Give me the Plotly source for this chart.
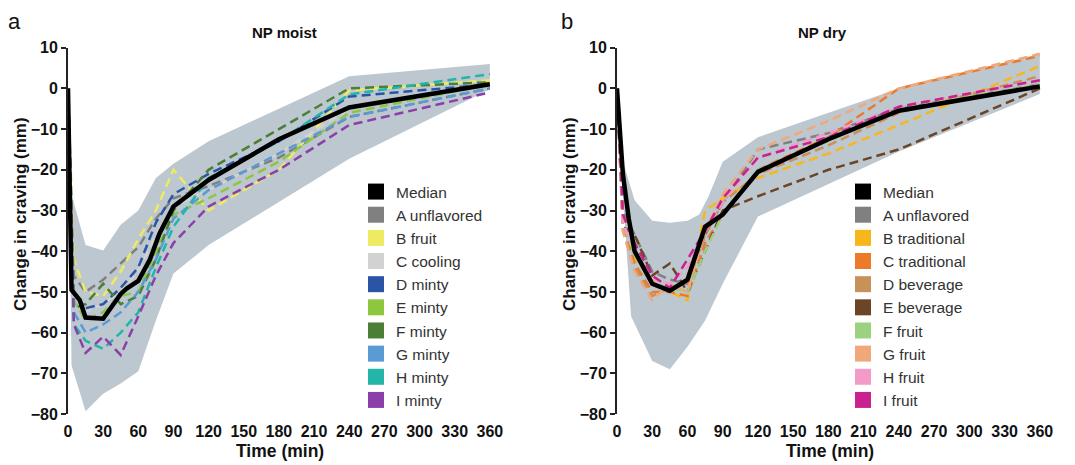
import plotly.graph_objects as go

# ---------------- data ----------------
T_DASH = [0, 5, 15, 30, 45, 60, 75, 90, 120, 180, 240, 360]

# Panel a: NP moist
MOIST_NAMES = ["A unflavored", "B fruit", "C cooling", "D minty", "E minty",
               "F minty", "G minty", "H minty", "I minty"]
MOIST_COLORS = ["#808080", "#eeea62", "#d2d2d2", "#2a55a5", "#8dc63f",
                "#4b7f35", "#5b9bd5", "#22b5a8", "#8b3fa8"]
MOIST_A = [0, -46, -50, -47, -43, -39, -32, -27, -24, -17, -7, 0]
MOIST_B = [0, -42, -50, -51, -45, -37, -30, -20, -30, -20, -0.5, 2]
MOIST_C = [0, -50, -55, -53, -50, -45, -36, -29, -25, -16, -5, 1]
MOIST_D = [0, -50, -54, -53, -49, -44, -33, -26, -21, -13, -2, 1]
MOIST_E = [0, -52, -57, -55, -51, -50, -40, -31, -27, -18, -6, 1]
MOIST_F = [0, -54, -53, -48, -53, -51, -42, -30, -20, -10, 0, 1.5]
MOIST_G = [0, -55, -60, -58, -55, -50, -42, -32, -25, -16, -7, 0]
MOIST_H = [0, -58, -62, -64, -60, -55, -44, -34, -22, -13, -1.5, 3.5]
MOIST_I = [0, -58, -65, -61, -65.5, -56, -46, -38, -29, -20, -9, -1]

MOIST_MED_T = [0, 3, 10, 15, 30, 45, 50, 60, 70, 78, 90, 120, 180, 240, 360]
MOIST_MED = [0, -49.5, -52, -56.3, -56.6, -50.5, -49.2, -47.3, -42, -35.7, -29, -22.5, -12.5, -4.7, 1]

MOIST_UP_T = [0, 3, 15, 30, 45, 60, 75, 90, 120, 240, 360]
MOIST_UP = [0, -26, -38.5, -39.8, -33.5, -30, -22, -18.5, -13, 3, 6]
MOIST_LO_T = [0, 3, 15, 30, 45, 60, 75, 90, 120, 240, 360]
MOIST_LO = [0, -68, -79.3, -75, -72.5, -69.5, -57, -45.5, -38.5, -17.3, -0.2]

# Panel b: NP dry
DRY_NAMES = ["A unflavored", "B traditional", "C traditional", "D beverage",
             "E beverage", "F fruit", "G fruit", "H fruit", "I fruit"]
DRY_COLORS = ["#808080", "#f7b71c", "#ec7a2b", "#c8915a", "#6b4525",
              "#9cd17f", "#f0a87a", "#f29ac8", "#c9218e"]
DRY_A = [0, -30, -36, -45, -47, -48, -36, -28, -15, -11, -5, 1]
DRY_B = [0, -32, -42, -47, -50, -52, -30, -27, -22, -16, -9, 5.5]
DRY_C = [0, -33, -43, -50, -50, -51, -38, -31, -20, -12, 0, 8]
DRY_D = [0, -35, -44, -51, -49, -48, -36, -28, -21, -14, -6, 3]
DRY_E = [0, -34, -36, -46, -43, -50, -40, -30, -26.5, -20, -15, 0]
DRY_F = [0, -33, -41, -48, -49, -50, -40, -31, -20, -13, -5, 1]
DRY_G = [0, -35, -45, -52, -48, -50, -35, -26, -15, -8, 0, 8.5]
DRY_H = [0, -33, -40, -47, -48, -44, -35, -28, -17, -11, -4.5, 2]
DRY_I = [0, -31, -38, -46, -49, -42, -35, -27, -17, -12, -4.5, 2]

DRY_MED_T = [0, 5, 10, 15, 30, 45, 60, 75, 90, 120, 180, 240, 360]
DRY_MED = [0, -21, -32, -40, -48, -49.7, -47, -34, -31, -20.5, -12.5, -5.5, 0.5]

DRY_UP_T = [0, 4, 15, 30, 45, 60, 70, 78, 90, 120, 240, 360]
DRY_UP = [0, -17, -27.5, -32.5, -33, -32.5, -31, -26.5, -18, -12, 0, 8.5]
DRY_LO_T = [0, 4, 12, 30, 45, 60, 75, 90, 120, 240, 360]
DRY_LO = [0, -22, -56, -67, -69, -63.5, -57, -48, -31.5, -15.5, -1.4]

X_TICKS = [0, 30, 60, 90, 120, 150, 180, 210, 240, 270, 300, 330, 360]
Y_TICKS = [10, 0, -10, -20, -30, -40, -50, -60, -70, -80]

# ---------------- figure ----------------
# the page body has an 8px default margin, so the figure is sized to fit the window
OFF = 8
W, H = 1075 - OFF, 465 - OFF
BAND = "#bdc7cf"
FONT = "Liberation Sans, Arial, sans-serif"

fig = go.Figure()

def px_x(p):
    return (p - OFF) / W

def px_y(p):
    return 1 - (p - OFF) / H

panels = [
    dict(xa="x", ya="y", xa_name="xaxis", ya_name="yaxis", legend="legend",
         up_t=MOIST_UP_T, up=MOIST_UP, lo_t=MOIST_LO_T, lo=MOIST_LO,
         series=[MOIST_A, MOIST_B, MOIST_C, MOIST_D, MOIST_E, MOIST_F, MOIST_G, MOIST_H, MOIST_I],
         names=MOIST_NAMES, colors=MOIST_COLORS, med_t=MOIST_MED_T, med=MOIST_MED,
         dom=[68, 491]),
    dict(xa="x2", ya="y2", xa_name="xaxis2", ya_name="yaxis2", legend="legend2",
         up_t=DRY_UP_T, up=DRY_UP, lo_t=DRY_LO_T, lo=DRY_LO,
         series=[DRY_A, DRY_B, DRY_C, DRY_D, DRY_E, DRY_F, DRY_G, DRY_H, DRY_I],
         names=DRY_NAMES, colors=DRY_COLORS, med_t=DRY_MED_T, med=DRY_MED,
         dom=[617, 1041]),
]

for p in panels:
    # shaded range band
    fig.add_trace(go.Scatter(
        x=p["up_t"] + p["lo_t"][::-1], y=p["up"] + p["lo"][::-1],
        fill="toself", fillcolor=BAND, line=dict(width=0), mode="lines",
        hoverinfo="skip", showlegend=False, xaxis=p["xa"], yaxis=p["ya"]))
    # dashed series
    for vals, name, col in zip(p["series"], p["names"], p["colors"]):
        fig.add_trace(go.Scatter(
            x=T_DASH, y=vals, mode="lines", name=name,
            line=dict(color=col, width=2.5, dash="9px,5px"),
            showlegend=False, xaxis=p["xa"], yaxis=p["ya"]))
    # median
    fig.add_trace(go.Scatter(
        x=p["med_t"], y=p["med"], mode="lines", name="Median",
        line=dict(color="black", width=4.5), showlegend=False,
        xaxis=p["xa"], yaxis=p["ya"]))
    # legend entries (squares)
    for name, col in zip(["Median"] + p["names"], ["black"] + p["colors"]):
        fig.add_trace(go.Scatter(
            x=[None], y=[None], mode="markers", name=name,
            marker=dict(symbol="square", size=16, color=col),
            showlegend=True, legend=p["legend"], xaxis=p["xa"], yaxis=p["ya"]))

y_dom = [px_y(414), px_y(47.7)]
zero_pos = px_y(87.7)

tickfont = dict(family=FONT, size=16, color="#111", weight="bold")
layout = dict(
    width=W, height=H, margin=dict(l=0, r=0, t=0, b=0, autoexpand=False),
    paper_bgcolor="white", plot_bgcolor="rgba(0,0,0,0)",
    font=dict(family=FONT, color="#111"),
    showlegend=True,
)

for i, p in enumerate(panels):
    xd = [px_x(p["dom"][0]), px_x(p["dom"][1])]
    layout[p["xa_name"]] = dict(
        domain=xd, range=[0, 361], anchor=p["ya"], tickvals=X_TICKS,
        showgrid=False, zeroline=False, showline=False,
        ticks="outside", ticklen=3, tickcolor="rgba(0,0,0,0)",
        tickfont=tickfont, automargin=False)
    layout[p["ya_name"]] = dict(
        domain=y_dom, range=[-80, 10], anchor=p["xa"], tickvals=Y_TICKS,
        showgrid=False, zeroline=False, showline=True, linecolor="#222",
        linewidth=2, ticks="outside", ticklen=5, tickwidth=1.5, tickcolor="#222",
        tickfont=tickfont, automargin=False)
    # axis line at y = 0 with tick marks
    zname = "xaxis%d" % (3 + i)
    layout[zname] = dict(
        domain=xd, range=[0, 361], overlaying=p["xa"], anchor="free",
        position=zero_pos, side="bottom", tickvals=X_TICKS[1:],
        showticklabels=False, showgrid=False, zeroline=False,
        showline=True, linecolor="#333", linewidth=1.5,
        ticks="outside", ticklen=5, tickwidth=1.5, tickcolor="#333",
        automargin=False)
    leg_x = px_x(376 - 20) if i == 0 else px_x(863 - 20)
    layout[p["legend"]] = dict(
        x=leg_x, xanchor="left", y=px_y(175), yanchor="top",
        bgcolor="rgba(0,0,0,0)", borderwidth=0,
        font=dict(family=FONT, size=15.5, color="#333"),
        itemwidth=30, tracegroupgap=0)

fig.update_layout(**layout)

annos = [
    dict(text="<b>NP moist</b>", x=px_x(284), y=px_y(33), size=15),
    dict(text="<b>NP dry</b>", x=px_x(822), y=px_y(33), size=15),
    dict(text="<b>Time (min)</b>", x=px_x(280), y=px_y(451), size=17.5),
    dict(text="<b>Time (min)</b>", x=px_x(830), y=px_y(451), size=17.5),
]
for a in annos:
    fig.add_annotation(text=a["text"], x=a["x"], y=a["y"], xref="paper", yref="paper",
                       xanchor="center", yanchor="middle", showarrow=False,
                       font=dict(family=FONT, size=a["size"], color="#111"))
# panel letters
for lbl, xc in [("a", 14), ("b", 567)]:
    fig.add_annotation(text=lbl, x=px_x(xc), y=1, xref="paper", yref="paper",
                       xanchor="center", yanchor="top", showarrow=False,
                       borderpad=0,
                       font=dict(family=FONT, size=22, color="#111"))
for xc in [20, 569]:
    fig.add_annotation(text="<b>Change in craving (mm)</b>", x=px_x(xc), y=px_y(214),
                       xref="paper", yref="paper", xanchor="center", yanchor="middle",
                       textangle=-90, showarrow=False,
                       font=dict(family=FONT, size=17, color="#111"))

fig.write_html("out.html")
